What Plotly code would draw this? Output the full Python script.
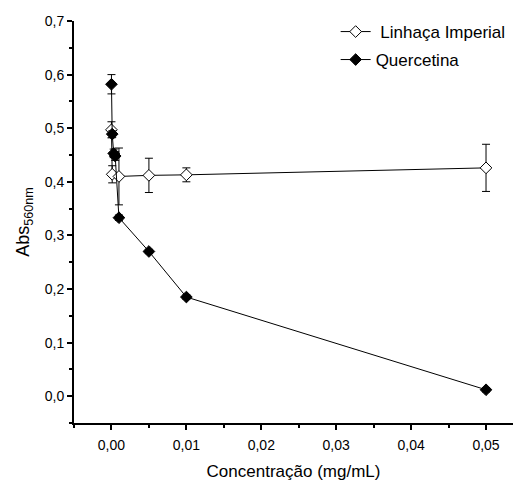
import plotly.graph_objects as go

# Data
linhaca_x = [0, 0.0001, 0.001, 0.005, 0.01, 0.05]
linhaca_y = [0.497, 0.414, 0.410, 0.412, 0.413, 0.426]
linhaca_err = [0.015, 0.016, 0.053, 0.032, 0.013, 0.044]

querc_x = [0, 0.0001, 0.0003, 0.0005, 0.001, 0.005, 0.01, 0.05]
querc_y = [0.582, 0.489, 0.453, 0.448, 0.333, 0.270, 0.185, 0.012]
querc_err = [0.018, 0.006, 0.008, 0.008, 0.005, 0.004, 0.004, 0.004]

x_ticks = [0.00, 0.01, 0.02, 0.03, 0.04, 0.05]
y_ticks = [0.0, 0.1, 0.2, 0.3, 0.4, 0.5, 0.6, 0.7]

FONT = "Liberation Sans, Arial, sans-serif"

fig = go.Figure()
fig.add_trace(go.Scatter(
    x=linhaca_x, y=linhaca_y, mode="lines+markers", name=" Linhaça Imperial",
    line=dict(color="black", width=1),
    marker=dict(symbol="diamond", size=9, color="white", line=dict(color="black", width=1)),
    error_y=dict(type="data", array=linhaca_err, color="black", thickness=1, width=4),
    legend="legend",
))
fig.add_trace(go.Scatter(
    x=querc_x, y=querc_y, mode="lines+markers", name="Quercetina",
    line=dict(color="black", width=1),
    marker=dict(symbol="diamond", size=9, color="black", line=dict(color="black", width=1)),
    error_y=dict(type="data", array=querc_err, color="black", thickness=1, width=4),
    legend="legend2",
))

axis_common = dict(
    showline=True, linecolor="black", linewidth=2, mirror=False,
    ticks="outside", ticklen=5, tickwidth=1.5, tickcolor="black",
    showgrid=False, zeroline=False, automargin=False,
    tickfont=dict(family=FONT, size=14, color="black"),
)

fig.update_xaxes(
    range=[-0.005, 0.0536], tickvals=x_ticks, tickformat=".2f",
    ticklabelstandoff=3,
    minor=dict(dtick=0.005, ticks="outside", ticklen=3, tickcolor="black", tickwidth=1.5),
    title=dict(text="Concentração (mg/mL)", font=dict(family=FONT, size=17, color="black"), standoff=23),
    **axis_common,
)
fig.update_yaxes(
    range=[-0.05, 0.7], tickvals=y_ticks, tickformat=".1f",
    minor=dict(dtick=0.05, ticks="outside", ticklen=3, tickcolor="black", tickwidth=1.5),
    title=dict(text="Abs<sub>560nm</sub>", font=dict(family=FONT, size=18, color="black"), standoff=10),
    **axis_common,
)

leg_common = dict(xanchor="left", yanchor="middle",
                  font=dict(family=FONT, size=17, color="black"),
                  bgcolor="rgba(0,0,0,0)")
fig.update_layout(
    width=513, height=481,
    margin=dict(l=74, r=0, t=21, b=58),
    paper_bgcolor="white", plot_bgcolor="white",
    separators=", ",
    showlegend=True,
    legend=dict(x=0.596, y=0.9726, **leg_common),
    legend2=dict(x=0.596, y=0.903, **leg_common),
)

fig.write_html("out.html", config={"displayModeBar": False},
               post_script="document.body.style.margin='0';")
